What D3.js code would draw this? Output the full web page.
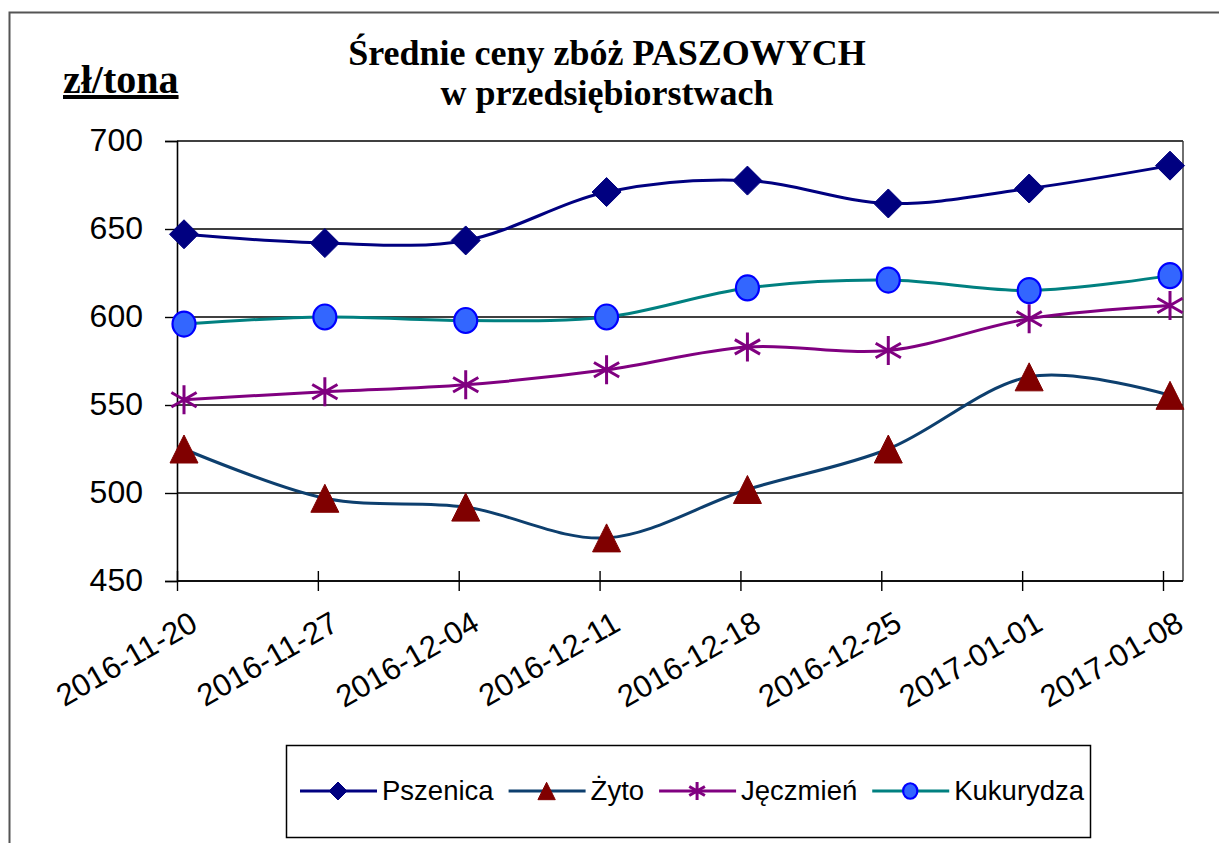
<!DOCTYPE html>
<html>
<head>
<meta charset="utf-8">
<script src="https://cdn.jsdelivr.net/npm/d3@7"></script>
<style>
  body { margin: 0; background: #fff; }
  svg { display: block; }
</style>
</head>
<body>
<div class="container"></div>
<script>
let width = 1219
let height = 843

// dane
let dates = ["2016-11-20", "2016-11-27", "2016-12-04", "2016-12-11", "2016-12-18", "2016-12-25", "2017-01-01", "2017-01-08"]
let pszenica = [647, 642, 643.5, 671, 677.5, 664.5, 673, 686]
let zyto = [525, 497, 492, 474.5, 502, 525, 566, 555.5]
let jeczmien = [553, 557.5, 561.5, 570, 583, 581, 599, 606.5]
let kukurydza = [596, 600, 598, 600, 616.5, 621, 615, 623.5]
let yTicks = [450, 500, 550, 600, 650, 700]

let series = [
  { name: "Pszenica", values: pszenica, line: "#000080", marker: "diamond", fill: "#000080", stroke: "#000080" },
  { name: "Żyto", values: zyto, line: "#0d3f6e", marker: "triangle", fill: "#800000", stroke: "#800000" },
  { name: "Jęczmień", values: jeczmien, line: "#800080", marker: "star", fill: "none", stroke: "#800080" },
  { name: "Kukurydza", values: kukurydza, line: "#008080", marker: "circle", fill: "#3366ff", stroke: "#0000ff" }
]

let plot = { left: 177, right: 1183, top: 141, bottom: 581 }
let markerShift = 7

let svg = d3.select(".container")
  .append("svg")
  .attr("width", width)
  .attr("height", height)

// ramka wykresu
svg.append("rect")
  .attr("x", 9.5).attr("y", 12.5)
  .attr("width", 1400).attr("height", 1000)
  .attr("fill", "none")
  .attr("stroke", "#555")
  .attr("stroke-width", 2)

let x = d3.scalePoint()
  .domain(dates)
  .range([plot.left, 1163])

let y = d3.scaleLinear()
  .domain([450, 700])
  .range([plot.bottom, plot.top])

// linie siatki
svg.selectAll(".grid")
  .data(yTicks)
  .enter()
  .append("line")
  .attr("class", "grid")
  .attr("x1", plot.left)
  .attr("x2", plot.right)
  .attr("y1", function (d) { return y(d) })
  .attr("y2", function (d) { return y(d) })
  .attr("stroke", "#000")
  .attr("stroke-width", 1.4)

// prawa krawędź obszaru
svg.append("line")
  .attr("x1", plot.right).attr("x2", plot.right)
  .attr("y1", plot.top).attr("y2", plot.bottom)
  .attr("stroke", "#333")
  .attr("stroke-width", 1.4)

// oś Y
let yAxis = svg.append("g")
  .attr("transform", `translate(${plot.left},0)`)
  .call(d3.axisLeft(y).tickValues(yTicks).tickSize(12).tickPadding(22))
yAxis.select(".domain").attr("stroke", "#000").attr("stroke-width", 1.6)
yAxis.selectAll(".tick line").attr("stroke", "#000").attr("stroke-width", 1.4)
yAxis.selectAll("text")
  .attr("font-family", "Liberation Sans, Arial, sans-serif")
  .attr("font-size", "32px")
  .attr("fill", "#000")
  .attr("dy", "0.3em")

// oś X
let xAxis = svg.append("g")
  .attr("transform", `translate(0,${plot.bottom})`)
  .call(d3.axisBottom(x).tickSize(10).tickSizeOuter(0))
xAxis.select(".domain").attr("stroke", "#000").attr("stroke-width", 1.6)
  .attr("d", `M${plot.left},0H${plot.right}`)
xAxis.selectAll(".tick line")
  .attr("y1", -10)
  .attr("stroke", "#000").attr("stroke-width", 1.4)
xAxis.selectAll("text")
  .attr("font-family", "Liberation Sans, Arial, sans-serif")
  .attr("font-size", "31px")
  .attr("fill", "#000")
  .attr("text-anchor", "end")
  .attr("dy", 0)
  .attr("y", 0)
  .attr("transform", "translate(22,48) rotate(-30)")

// linie serii
let line = d3.line()
  .x(function (d, i) { return x(dates[i]) + markerShift })
  .y(function (d) { return y(d) })
  .curve(d3.curveCardinal.tension(0))

svg.selectAll(".series")
  .data(series)
  .enter()
  .append("path")
  .attr("class", "series")
  .attr("d", function (d) { return line(d.values) })
  .attr("fill", "none")
  .attr("stroke", function (d) { return d.line })
  .attr("stroke-width", 3)

function markerPath(type, s) {
  if (type === "diamond") return `M0,${-s}L${s},0L0,${s}L${-s},0Z`
  if (type === "triangle") return `M0,${-s}L${s},${s}L${-s},${s}Z`
  if (type === "star") {
    let a = s * 0.87, b = s * 0.5
    return `M0,${-s}V${s}M${-a},${-b}L${a},${b}M${-a},${b}L${a},${-b}`
  }
  return null
}

function drawMarker(g, d, cx, cy, scale) {
  if (d.marker === "circle") {
    g.append("ellipse")
      .attr("cx", cx).attr("cy", cy)
      .attr("rx", 11.5 * scale).attr("ry", 12.5 * scale)
      .attr("fill", d.fill)
      .attr("stroke", d.stroke)
      .attr("stroke-width", 2.2)
  } else {
    let size = d.marker === "triangle" ? 14 : 14.5
    g.append("path")
      .attr("transform", `translate(${cx},${cy})`)
      .attr("d", markerPath(d.marker, size * scale))
      .attr("fill", d.fill)
      .attr("stroke", d.stroke)
      .attr("stroke-width", d.marker === "star" ? 3 : 1)
      .attr("stroke-linejoin", "miter")
  }
}

let markers = svg.append("g")
series.forEach(function (s) {
  s.values.forEach(function (v, i) {
    drawMarker(markers, s, x(dates[i]) + markerShift, y(v), 1)
  })
})

// tytuł
let title = svg.append("text")
  .attr("x", 607)
  .attr("y", 65)
  .attr("text-anchor", "middle")
  .attr("font-family", "Liberation Serif, Times New Roman, serif")
  .attr("font-weight", "bold")
  .attr("font-size", "36px")
  .attr("fill", "#000")
title.append("tspan").attr("x", 607).text("Średnie  ceny zbóż PASZOWYCH")
title.append("tspan").attr("x", 607).attr("dy", 40).text("w przedsiębiorstwach")

svg.append("text")
  .attr("x", 63)
  .attr("y", 93)
  .attr("font-family", "Liberation Serif, Times New Roman, serif")
  .attr("font-weight", "bold")
  .attr("font-size", "40px")
  .attr("text-decoration", "underline")
  .attr("fill", "#000")
  .text("zł/tona")

// legenda
let legend = svg.append("g")
legend.append("rect")
  .attr("x", 286.5).attr("y", 745.5)
  .attr("width", 804).attr("height", 92)
  .attr("fill", "#fff")
  .attr("stroke", "#000")
  .attr("stroke-width", 1.5)

let cursor = 300
let legendY = 791
series.forEach(function (s) {
  legend.append("line")
    .attr("x1", cursor).attr("x2", cursor + 77)
    .attr("y1", legendY).attr("y2", legendY)
    .attr("stroke", s.line)
    .attr("stroke-width", 3)
  drawMarker(legend, s, cursor + 38, legendY, 0.62)
  let t = legend.append("text")
    .attr("x", cursor + 82)
    .attr("y", legendY + 9)
    .attr("font-family", "Liberation Sans, Arial, sans-serif")
    .attr("font-size", "27.5px")
    .attr("fill", "#000")
    .text(s.name)
  cursor = cursor + 82 + t.node().getComputedTextLength() + 15
})
</script>
</body>
</html>
